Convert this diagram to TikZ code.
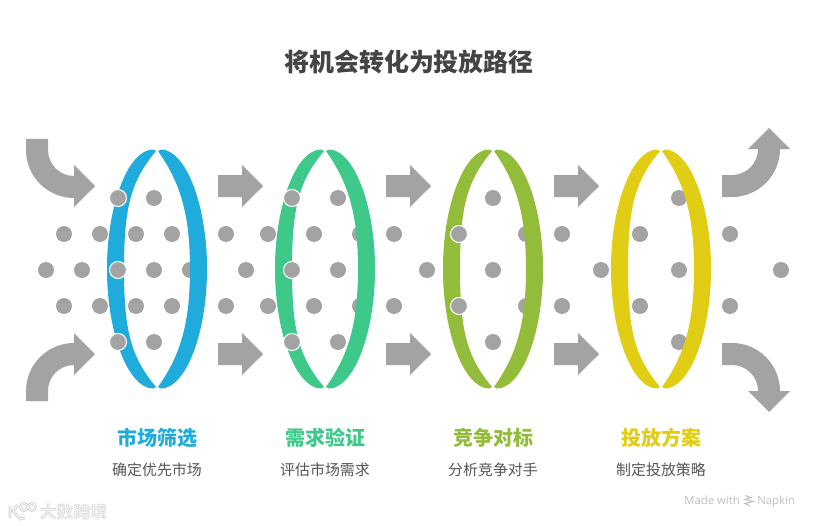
\documentclass[tikz,border=0pt]{standalone}
\usepackage{fontspec}
\setmainfont{Open Sans}
\newfontfamily\cjk{Noto Sans CJK SC}
\definecolor{arrowgray}{HTML}{A3A3A3}
\definecolor{titlegray}{HTML}{444444}
\definecolor{subgray}{HTML}{555555}
\definecolor{ringblue}{HTML}{1FABDB}
\definecolor{ringgreen}{HTML}{3EC98A}
\definecolor{ringlime}{HTML}{92BC39}
\definecolor{ringyellow}{HTML}{E0CD14}

\begin{document}
\begin{tikzpicture}[x=0.75pt, y=-0.75pt,
  % Gray pieces
  flowarrow/.style={fill=arrowgray},
  graydot/.style={fill=arrowgray},
  % Dots that sit in front of a ring
  frontdot/.style={fill=arrowgray, draw=white, line width=0.8pt},
  % Texts
  titletext/.style={font=\cjk\bfseries\fontsize{18.7pt}{22pt}\selectfont, text=titlegray},
  headtext/.style={font=\cjk\bfseries\fontsize{15pt}{18pt}\selectfont},
  subtext/.style={font=\cjk\fontsize{11.2pt}{14pt}\selectfont, text=subgray},
  marktext/.style={font=\fontsize{8.5pt}{10pt}\selectfont, text=black!25, inner sep=0pt},
  logotext/.style={font=\cjk\fontsize{12.6pt}{15pt}\selectfont}
]
  \useasboundingbox (0,0) rectangle (818,528);

  % Title
  \node[titletext] (title) at (409,62) {将机会转化为投放路径};

  % Curved arrows in
  \fill[flowarrow] (26,139) -- (26,150) .. controls (26,176.5) and (47.5,198) .. (74,198)
    -- (74,207) -- (95,186) -- (74,165) -- (74,176)
    .. controls (59.6,176) and (48,164.4) .. (48,150) -- (48,139) -- cycle;
  \fill[flowarrow] (26,401) -- (26,391) .. controls (26,364.5) and (47.5,343) .. (74,343)
    -- (74,333) -- (95,354) -- (74,375) -- (74,365)
    .. controls (59.6,365) and (48,376.6) .. (48,391) -- (48,401) -- cycle;

  % Straight arrows between rings
  \foreach \x in {218,386,554} {
    \foreach \y in {186,354} {
      \fill[flowarrow] (\x,\y) ++(0,-11) -- ++(24,0) -- ++(0,-10) -- ++(21,21)
        -- ++(-21,21) -- ++(0,-10) -- ++(-24,0) -- cycle;
    }
  }

  % Curved arrows out
  \fill[flowarrow] (722,197) -- (732,197) .. controls (758.5,197) and (780,175.5) .. (780,149)
    -- (790,149) -- (769,128) -- (748,149) -- (758,149)
    .. controls (758,163.4) and (746.4,175) .. (732,175) -- (722,175) -- cycle;
  \fill[flowarrow] (722,343) -- (732,343) .. controls (758.5,343) and (780,364.5) .. (780,391)
    -- (790,391) -- (769,412) -- (748,391) -- (758,391)
    .. controls (758,376.6) and (746.4,365) .. (732,365) -- (722,365) -- cycle;

  % Dots behind the rings
  \foreach \x in {154,338,493,679} {
    \fill[graydot] (\x,198) circle (6pt);
    \fill[graydot] (\x,342) circle (6pt);
  }
  \foreach \x in {64,100,136,172,226,268,314,360,394,526,562,640,730} {
    \fill[graydot] (\x,234) circle (6pt);
    \fill[graydot] (\x,306) circle (6pt);
  }
  \foreach \x in {46,82,154,190,246,338,427,493,601,679,781} {
    \fill[graydot] (\x,270) circle (6pt);
  }

  % Rings, each one two bands that meet at the tips
  \foreach \cx/\ringcolor in {157/ringblue,325/ringgreen,493/ringlime,661/ringyellow} {
    \fill[\ringcolor, shift={(\cx,269)}] (-50,0) .. controls (-50,-66) and (-28,-119.5) .. (-4,-119.5)
      -- (-1,-118) .. controls (-26,-88) and (-33,-62) .. (-33,0)
      .. controls (-33,62) and (-26,88) .. (-1,118)
      -- (-4,119.5) .. controls (-28,119.5) and (-50,66) .. (-50,0) -- cycle;
    \fill[\ringcolor, shift={(\cx,269)}] (50,0) .. controls (50,-66) and (28,-119.5) .. (4,-119.5)
      -- (1,-118) .. controls (22,-88) and (33,-58) .. (33,0)
      .. controls (33,58) and (22,88) .. (1,118)
      -- (4,119.5) .. controls (28,119.5) and (50,66) .. (50,0) -- cycle;
  }

  % Dots in front of the rings
  \foreach \x in {118,292} {
    \draw[frontdot] (\x,198) circle (6.4pt);
    \draw[frontdot] (\x,270) circle (6.4pt);
    \draw[frontdot] (\x,342) circle (6.4pt);
  }
  \draw[frontdot] (459,234) circle (6.4pt);
  \draw[frontdot] (459,306) circle (6.4pt);

  % Labels
  \node[headtext, text=ringblue] (headone) at (157,438) {市场筛选};
  \node[headtext, text=ringgreen] (headtwo) at (325,438) {需求验证};
  \node[headtext, text=ringlime] (headthree) at (493,438) {竞争对标};
  \node[headtext, text=ringyellow] (headfour) at (661,438) {投放方案};
  \node[subtext] (subone) at (157,470) {确定优先市场};
  \node[subtext] (subtwo) at (325,470) {评估市场需求};
  \node[subtext] (subthree) at (493,470) {分析竞争对手};
  \node[subtext] (subfour) at (661,470) {制定投放策略};

  % Marks in the bottom corners
  \node[marktext, anchor=base east] (madewith) at (740,504.3) {Made with};
  \node[marktext, anchor=base west] (napkin) at (757,504.3) {Napkin};
  \draw[black!25, line width=0.8pt] (745,495.5) -- (751,497.5) -- (745,499.5) -- (753,501.5)
    -- (745,503.5) -- (750,506);

  \node[logotext, text=black!20, font=\cjk\bfseries\fontsize{12.6pt}{15pt}\selectfont] (logoshadow) at (73.5,512) {大数跨境};
  \node[logotext, text=black!3] (logolabel) at (73.5,512) {大数跨境};
  \draw[black!20, line width=2pt] (10,506) -- (10,518) (18,505) -- (13,511) -- (20,519) -- (25,518)
    (24,507) circle (2.6pt) (32,507) circle (2.6pt);
  \draw[black!3, line width=0.9pt] (10,506) -- (10,518) (18,505) -- (13,511) -- (20,519) -- (25,518)
    (24,507) circle (2.6pt) (32,507) circle (2.6pt);
\end{tikzpicture}
\end{document}
